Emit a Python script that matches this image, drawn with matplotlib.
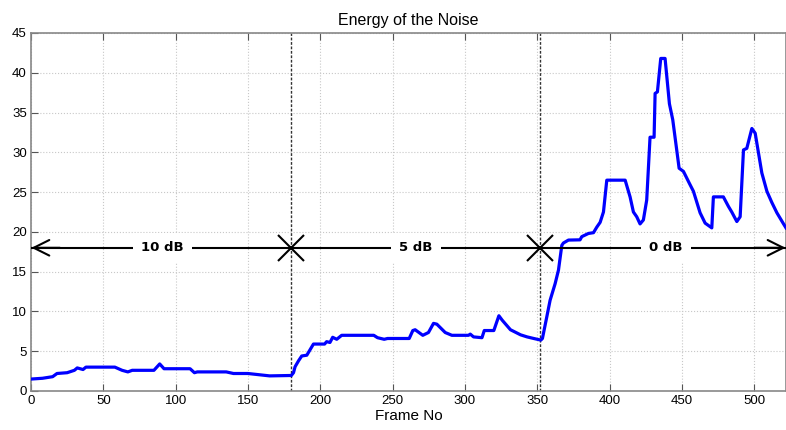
import numpy as np
import matplotlib.pyplot as plt

plt.rcParams['font.family'] = ['Liberation Sans', 'DejaVu Sans']

# noise energy per frame
frames = [0, 8, 15, 18, 25, 30, 32, 36, 38, 58, 63, 67, 70, 85, 87, 89, 92, 110,
          113, 115, 135, 140, 150, 155, 160, 165, 180,
          181.5, 182.6, 185, 187.2, 190.7, 193, 195.3, 203, 204.4, 206.7, 208.6, 211.4,
          214.8, 237, 239.6, 244.2, 246.5, 261.5, 264, 265.6, 270.9, 274.8, 278.3,
          280.6, 286.4, 291, 302.5, 303.7, 306, 311.8, 313.4, 320, 323.5, 325.8,
          331.5, 338.5, 343, 347.6, 352.5,
          353.6, 356.6, 358.9, 362.4, 364.7, 367, 368.1, 371.6, 379.6, 380.8, 385.4,
          388.9, 391.2, 393.5, 395.8, 398.1, 410.8, 414.2, 416.5, 418.8, 421.1,
          423.4, 425.7, 428, 430.8, 431.5, 433.1, 435.4, 438.4, 441.4, 443.7, 448.1,
          451.1, 455.2, 458, 462.6, 466.1, 470.7, 471.8, 478.7, 482.2, 484.5, 488,
          490.3, 492.6, 494.9, 498.4, 500.7, 505.3, 508.8, 512.2, 515.7, 520.3, 522]
energy = [1.5, 1.6, 1.8, 2.2, 2.3, 2.6, 2.9, 2.7, 3.0, 3.0, 2.6, 2.4, 2.6, 2.6, 3.0, 3.4, 2.8, 2.8,
          2.3, 2.4, 2.4, 2.2, 2.2, 2.1, 2.0, 1.9, 1.95,
          2.3, 3.05, 3.8, 4.4, 4.5, 5.2, 5.9, 5.9, 6.2, 6.1, 6.75, 6.5,
          7.0, 7.0, 6.7, 6.5, 6.6, 6.6, 7.6, 7.7, 7.0, 7.35, 8.5,
          8.4, 7.35, 7.0, 7.0, 7.15, 6.8, 6.7, 7.6, 7.6, 9.46, 8.9,
          7.7, 7.06, 6.8, 6.6, 6.4,
          6.6, 9.3, 11.4, 13.5, 15.2, 18.3, 18.6, 18.97, 19.0, 19.4, 19.8,
          19.9, 20.6, 21.2, 22.5, 26.5, 26.5, 24.4, 22.5, 21.9, 21.0,
          21.5, 24.0, 31.9, 31.9, 37.4, 37.6, 41.8, 41.8, 36.1, 34.1, 28.0,
          27.6, 26.1, 25.1, 22.4, 21.1, 20.5, 24.4, 24.4, 23.2, 22.5, 21.3,
          21.9, 30.3, 30.5, 33.0, 32.4, 27.4, 25.1, 23.7, 22.4, 21.0, 20.5]

boundaries = [180, 352]
snr_labels = ['10 dB', '5 dB', '0 dB']
label_x = [91, 266, 439]
arrow_y = 18

fig = plt.figure(figsize=(7.86, 4.30), dpi=100)
ax = fig.add_axes([0.0394, 0.0907, 0.9606, 0.8326])

ax.plot(frames, energy, color='#0000ff', lw=2.3, zorder=3)

for b in boundaries:
    ax.axvline(b, color='#333333', lw=1.0, ls=(0, (2, 1.2)), zorder=2)

# SNR segments
ax.plot([0, 180], [arrow_y, arrow_y], color='black', lw=1.5, zorder=4)
ax.plot([180, 352], [arrow_y, arrow_y], color='black', lw=1.5, zorder=4)
ax.plot([352, 521], [arrow_y, arrow_y], color='black', lw=1.5, zorder=4)
ax.annotate('', xy=(0.3, arrow_y), xytext=(20, arrow_y),
            arrowprops=dict(arrowstyle='->', color='black', lw=1.5,
                            mutation_scale=28, shrinkA=0, shrinkB=0), zorder=5)
ax.annotate('', xy=(521.7, arrow_y), xytext=(500, arrow_y),
            arrowprops=dict(arrowstyle='->', color='black', lw=1.5,
                            mutation_scale=28, shrinkA=0, shrinkB=0), zorder=5)
ax.plot(boundaries, [arrow_y, arrow_y], ls='none', marker='x', ms=19, mew=1.5,
        color='black', zorder=5)
for lx, lab in zip(label_x, snr_labels):
    ax.text(lx, arrow_y, lab, ha='center', va='center', fontsize=9.5, fontweight='bold',
            family='DejaVu Sans',
            bbox=dict(facecolor='white', edgecolor='none', pad=6), zorder=6)

ax.set_xlim(0, 522)
ax.set_ylim(0, 45)
ax.set_xticks(np.arange(0, 501, 50))
ax.set_yticks(np.arange(0, 46, 5))
ax.grid(True, color='#c8c8c8', ls=':', lw=0.8)
ax.tick_params(direction='in', top=True, right=False, length=5, color='#555555',
               labelsize=9.5, pad=3)
for s in ax.spines.values():
    s.set_color('#888888')
    s.set_linewidth(1.2)

ax.set_title('Energy of the Noise', fontsize=11.5, pad=6)
ax.set_xlabel('Frame No', fontsize=11, labelpad=1)

fig.savefig('out.png', dpi=100)
